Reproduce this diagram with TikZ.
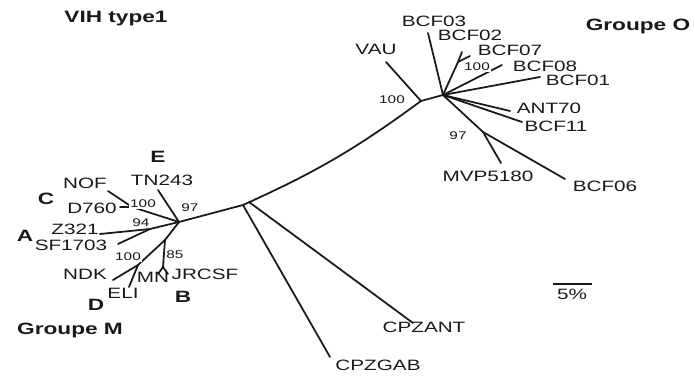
\documentclass[tikz,border=0pt]{standalone}
\usepackage{fontspec}
\usepackage{graphicx}
\setmainfont{Liberation Sans}
\newcommand{\hstr}[1]{\scalebox{1.38}[1]{#1}}
\tikzset{
  br/.style={line width=1.5pt, line cap=round, draw=black!90},
  lab/.style={font=\fontsize{12.8}{13}\selectfont, inner sep=0pt, text=black!90},
  blab/.style={font=\fontsize{14}{15}\selectfont\bfseries, inner sep=0pt, text=black!90},
  num/.style={font=\fontsize{9.5}{10}\selectfont, inner sep=0.6pt, fill=white, text=black!90}
}
\begin{document}
\begin{tikzpicture}[x=0.03cm,y=-0.03cm]
\useasboundingbox (0,0) rectangle (695,376);
% internal nodes and tips
\coordinate (hM) at (179,222);
\coordinate (jC) at (243,205);
\coordinate (jC2) at (249,202);
\coordinate (jO) at (421,101);
\coordinate (hO) at (443,95);
\coordinate (tGAB) at (330,357);
\coordinate (tANT) at (413,323);
\coordinate (tVAU) at (386,62);
\coordinate (tB03) at (428,33);
\coordinate (nO7) at (458,62);
\coordinate (tB02) at (462,52);
\coordinate (tB07) at (470,56);
\coordinate (tB08) at (502,65);
\coordinate (tB01) at (540,77);
\coordinate (tA70) at (510,111);
\coordinate (tB11) at (522,122);
\coordinate (nO6) at (483,132);
\coordinate (tMVP) at (501,163);
\coordinate (tB06) at (565,179);
\coordinate (tTN) at (158,190);
\coordinate (nC) at (132,207);
\coordinate (tNOF) at (108,191);
\coordinate (tD760) at (120,207);
\coordinate (nA) at (150,229);
\coordinate (tZ) at (100,234);
\coordinate (tSF) at (118,244);
\coordinate (nDB) at (165,240);
\coordinate (nD) at (138,265);
\coordinate (tNDK) at (113,280);
\coordinate (tELI) at (129,287);
\coordinate (nB) at (163,267);
\coordinate (tMN) at (158,274);
\coordinate (tJR) at (168,274);
\coordinate (s1) at (553,284);
\coordinate (s2) at (592,284);
% backbone
\draw[br] (hM) -- (jC) to[bend right=6] (jO) -- (hO);
\draw[br] (jC) -- (tGAB);
\draw[br] (jC2) -- (tANT);
% group O
\draw[br] (jO) -- (tVAU);
\draw[br] (hO) -- (tB03);
\draw[br] (hO) -- (nO7) -- (tB02);
\draw[br] (nO7) -- (tB07);
\draw[br] (hO) -- (tB08);
\draw[br] (hO) -- (tB01);
\draw[br] (hO) -- (tA70);
\draw[br] (hO) -- (tB11);
\draw[br] (hO) -- (nO6) -- (tMVP);
\draw[br] (nO6) -- (tB06);
% group M
\draw[br] (hM) -- (tTN);
\draw[br] (hM) -- (nC) -- (tNOF);
\draw[br] (nC) -- (tD760);
\draw[br] (hM) -- (nA) -- (tZ);
\draw[br] (nA) -- (tSF);
\draw[br] (hM) -- (nDB) -- (nD) -- (tNDK);
\draw[br] (nD) -- (tELI);
\draw[br] (nDB) -- (nB) -- (tMN);
\draw[br] (nB) -- (tJR);
% scale bar
\draw[br, line cap=butt] (s1) -- (s2);
% labels
\node[blab] (vih) at (116,19) {\hstr{VIH type1}};
\node[blab] (gO) at (638,26) {\hstr{Groupe O}};
\node[blab] (gM) at (70,330) {\hstr{Groupe M}};
\node[lab] (lVAU) at (376,49) {\hstr{VAU}};
\node[lab] (lB03) at (434,21) {\hstr{BCF03}};
\node[lab] (lB02) at (470,35) {\hstr{BCF02}};
\node[lab] (lB07) at (510,50) {\hstr{BCF07}};
\node[lab] (lB08) at (545,66) {\hstr{BCF08}};
\node[lab] (lB01) at (578,80) {\hstr{BCF01}};
\node[lab] (lA70) at (549,108) {\hstr{ANT70}};
\node[lab] (lB11) at (556,126) {\hstr{BCF11}};
\node[lab] (lMVP) at (488,176) {\hstr{MVP5180}};
\node[lab] (lB06) at (605,186) {\hstr{BCF06}};
\node[num] (n1) at (392,100) {\hstr{100}};
\node[num] (n2) at (477,67) {\hstr{100}};
\node[num] (n3) at (458,136) {\hstr{97}};
\node[blab] (lE) at (158,157) {\hstr{E}};
\node[lab] (lTN) at (162,180) {\hstr{TN243}};
\node[lab] (lNOF) at (85,183) {\hstr{NOF}};
\node[blab] (lC) at (46,199) {\hstr{C}};
\node[lab] (lD760) at (92,208) {\hstr{D760}};
\node[num] (n4) at (143,204) {\hstr{100}};
\node[num] (n5) at (190,208) {\hstr{97}};
\node[lab] (lZ) at (75,229) {\hstr{Z321}};
\node[blab] (lA) at (25,236) {\hstr{A}};
\node[num] (n6) at (141,223) {\hstr{94}};
\node[lab] (lSF) at (71,245) {\hstr{SF1703}};
\node[num] (n7) at (128,257) {\hstr{100}};
\node[num] (n8) at (175,255) {\hstr{85}};
\node[lab] (lNDK) at (85,274) {\hstr{NDK}};
\node[lab] (lMN) at (153,277) {\hstr{MN}};
\node[lab] (lJR) at (205,274) {\hstr{JRCSF}};
\node[lab] (lELI) at (123,293) {\hstr{ELI}};
\node[blab] (lD) at (96,305) {\hstr{D}};
\node[blab] (lB) at (183,297) {\hstr{B}};
\node[lab] (lANT) at (424,327) {\hstr{CPZANT}};
\node[lab] (lGAB) at (378,365) {\hstr{CPZGAB}};
\node[lab] (l5) at (572,294) {\hstr{5\%}};
\end{tikzpicture}
\end{document}
